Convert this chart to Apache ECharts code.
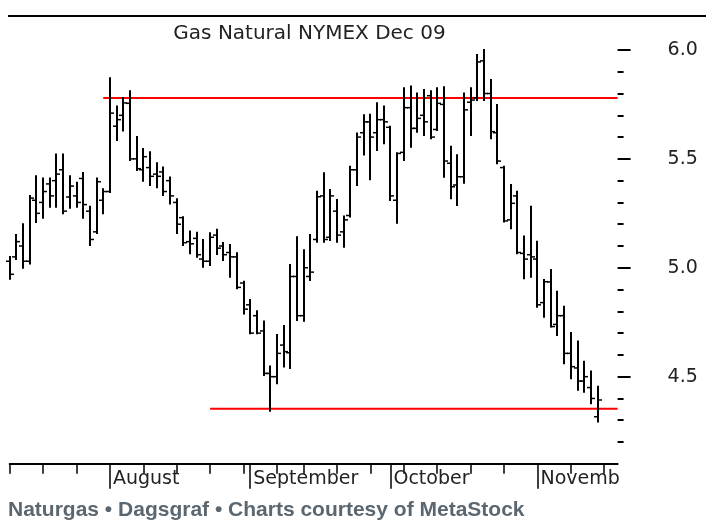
<!DOCTYPE html>
<html><head><meta charset="utf-8">
<script src="https://cdn.jsdelivr.net/npm/echarts@6/dist/echarts.min.js"></script>
<style>html,body{margin:0;padding:0;background:#fff}#c{width:706px;height:523px}</style>
</head><body><div id="c"></div>
<script>
// Daily OHLC, Gas Natural NYMEX Dec 09, 13 Jul 2009 .. 12 Nov 2009 (trading-day index)
const opens  = [5.03,5.05,5.10,5.03,5.31,5.30,5.385,5.40,5.45,5.325,5.33,5.41,5.26,5.165,5.31,5.35,5.65,5.70,5.755,5.50,5.45,5.46,5.43,5.44,5.40,5.30,5.23,5.12,5.135,5.04,5.03,5.15,5.10,5.07,5.05,4.93,4.83,4.78,4.71,4.515,4.50,4.645,4.61,4.96,4.78,4.96,5.13,5.33,5.14,5.26,5.165,5.24,5.45,5.62,5.67,5.62,5.68,5.645,5.31,5.53,5.735,5.64,5.70,5.79,5.635,5.75,5.48,5.38,5.418,5.76,5.78,5.95,5.80,5.62,5.46,5.22,5.33,5.066,5.06,5.04,4.84,4.935,4.74,4.78,4.607,4.54,4.48,4.45,4.316];
const highs  = [5.05,5.15,5.20,5.33,5.42,5.41,5.41,5.52,5.52,5.42,5.39,5.435,5.28,5.41,5.36,5.87,5.74,5.78,5.81,5.60,5.545,5.53,5.48,5.46,5.415,5.315,5.232,5.166,5.161,5.128,5.158,5.174,5.114,5.105,5.067,4.936,4.852,4.80,4.753,4.547,4.691,4.733,5.013,5.14,5.08,5.151,5.349,5.434,5.357,5.311,5.235,5.464,5.617,5.70,5.702,5.755,5.74,5.648,5.526,5.824,5.832,5.80,5.816,5.81,5.824,5.829,5.556,5.517,5.80,5.824,5.977,6.00,5.862,5.747,5.464,5.38,5.349,5.143,5.28,5.12,4.944,4.99,4.89,4.821,4.70,4.661,4.569,4.524,4.454];
const lows   = [4.95,5.04,5.00,5.02,5.21,5.23,5.28,5.28,5.25,5.275,5.28,5.23,5.105,5.16,5.25,5.348,5.587,5.63,5.495,5.449,5.40,5.38,5.37,5.334,5.295,5.16,5.105,5.067,5.051,5.005,5.013,5.063,5.036,4.959,4.906,4.79,4.699,4.699,4.508,4.344,4.47,4.547,4.54,4.76,4.757,4.944,5.12,5.12,5.128,5.12,5.097,5.235,5.38,5.52,5.406,5.541,5.572,5.311,5.207,5.495,5.556,5.625,5.61,5.595,5.633,5.418,5.319,5.288,5.39,5.61,5.77,5.77,5.595,5.48,5.212,5.181,5.067,4.952,4.959,4.821,4.775,4.73,4.691,4.562,4.493,4.44,4.431,4.378,4.294];
const closes = [4.97,5.12,5.03,5.32,5.25,5.35,5.33,5.43,5.26,5.375,5.30,5.29,5.13,5.395,5.35,5.71,5.68,5.757,5.50,5.455,5.51,5.42,5.42,5.35,5.33,5.20,5.115,5.11,5.06,5.03,5.14,5.09,5.06,5.05,4.91,4.81,4.70,4.70,4.515,4.50,4.607,4.615,4.96,4.78,5.00,4.98,5.326,5.13,5.33,5.15,5.22,5.45,5.60,5.67,5.60,5.68,5.67,5.33,5.525,5.735,5.64,5.686,5.67,5.60,5.755,5.49,5.372,5.418,5.725,5.77,5.945,5.80,5.625,5.49,5.215,5.296,5.07,5.04,5.05,4.83,4.936,4.73,4.78,4.607,4.546,4.48,4.50,4.40,4.393];

// x-axis: first trading day of each week, first trading day of each month
const weekTicks   = [0,5,10,15,20,25,30,35,40,44,49,54,59,64,69,74,79,84,89];
const monthTicks  = [15,36,57,79];
const monthLabels = ['August','September','October','Novemb'];
const xMax = 91;

// price axis
const priceMajor = [4.5,5.0,5.5,6.0];
const priceMinor = [4.2,4.3,4.4,4.5,4.6,4.7,4.8,4.9,5.0,5.1,5.2,5.3,5.4,5.5,5.6,5.7,5.8,5.9,6.0];
const priceMin = 4.1, priceMax = 6.2;

// horizontal red levels [value, start index]
const resistance = [5.78, 14];
const support    = [4.353, 30];

const titleText  = 'Gas Natural NYMEX Dec 09';
const footerText = 'Naturgas \u2022 Dagsgraf \u2022 Charts courtesy of MetaStock';

const ohlc = opens.map((o,i)=>[i,o,highs[i],lows[i],closes[i]]);

function renderItem(params, api){
  const x = api.value(0);
  const o = api.coord([x, api.value(1)]);
  const h = api.coord([x, api.value(2)]);
  const l = api.coord([x, api.value(3)]);
  const c = api.coord([x, api.value(4)]);
  const px = Math.round(o[0]);
  const st = {stroke:'#000', lineWidth:2};
  const tk = {stroke:'#000', lineWidth:1.5};
  return {type:'group', children:[
    {type:'line', shape:{x1:px, y1:h[1]-1, x2:px, y2:l[1]+1}, style:st},
    {type:'line', shape:{x1:px-4, y1:o[1], x2:px, y2:o[1]}, style:tk},
    {type:'line', shape:{x1:px, y1:c[1], x2:px+4, y2:c[1]}, style:tk}
  ]};
}

const chart = echarts.init(document.getElementById('c'), null, {renderer:'canvas'});
const labelFont = 'DejaVu Sans';
chart.setOption({
  animation:false,
  backgroundColor:'#fff',
  grid:{left:9.7, right:88.4, top:6.4, bottom:59.2, containLabel:false},
  xAxis:[
    {type:'value', min:0, max:xMax, gridIndex:0, position:'bottom',
     axisLine:{show:true, onZero:false, lineStyle:{color:'#000', width:2}},
     axisTick:{show:true, customValues:weekTicks, length:10, lineStyle:{color:'#000', width:1.5}},
     axisLabel:{show:false}, splitLine:{show:false}},
    {type:'value', min:0, max:xMax, gridIndex:0, position:'bottom', offset:0,
     axisLine:{show:false, onZero:false},
     axisTick:{show:true, customValues:monthTicks, length:25, lineStyle:{color:'#000', width:1.5}},
     axisLabel:{show:true, customValues:monthTicks, align:'left', margin:6, padding:[0,0,0,3],
       formatter:v=>monthLabels[monthTicks.indexOf(v)], fontFamily:labelFont, fontSize:19, color:'#222'},
     splitLine:{show:false}}
  ],
  yAxis:[
    {type:'value', min:priceMin, max:priceMax, position:'right', offset:0,
     axisLine:{show:false, onZero:false},
     axisTick:{show:true, customValues:priceMajor, length:13, lineStyle:{color:'#000', width:2}},
     axisLabel:{show:true, customValues:priceMajor, margin:50, formatter:v=>v.toFixed(1),
       fontFamily:labelFont, fontSize:19, color:'#222'},
     splitLine:{show:false}},
    {type:'value', min:priceMin, max:priceMax, position:'right', offset:0,
     axisLine:{show:false, onZero:false},
     axisTick:{show:true, customValues:priceMinor, length:6, lineStyle:{color:'#000', width:2}},
     axisLabel:{show:false}, splitLine:{show:false}}
  ],
  graphic:[
    {type:'line', shape:{x1:8, y1:16, x2:706, y2:16}, style:{stroke:'#000', lineWidth:2}, silent:true},
    {type:'text', x:309.5, y:24, style:{text:titleText, textAlign:'center', textVerticalAlign:'top',
      font:'normal 20px "DejaVu Sans"', fill:'#222'}},
    {type:'text', x:8, y:500, style:{text:footerText, textAlign:'left', textVerticalAlign:'top',
      font:'bold 21px "Liberation Sans"', fill:'#5b6770'}}
  ],
  series:[
    {type:'line', xAxisIndex:0, yAxisIndex:0, data:[[resistance[1],resistance[0]],[xMax,resistance[0]]],
     symbol:'none', lineStyle:{color:'#ff0000', width:2}, z:1},
    {type:'line', xAxisIndex:0, yAxisIndex:0, data:[[support[1],support[0]],[xMax,support[0]]],
     symbol:'none', lineStyle:{color:'#ff0000', width:2}, z:1},
    {type:'custom', xAxisIndex:0, yAxisIndex:0, renderItem:renderItem, data:ohlc,
     encode:{x:0, y:[1,2,3,4]}, z:2}
  ]
});
</script></body></html>
